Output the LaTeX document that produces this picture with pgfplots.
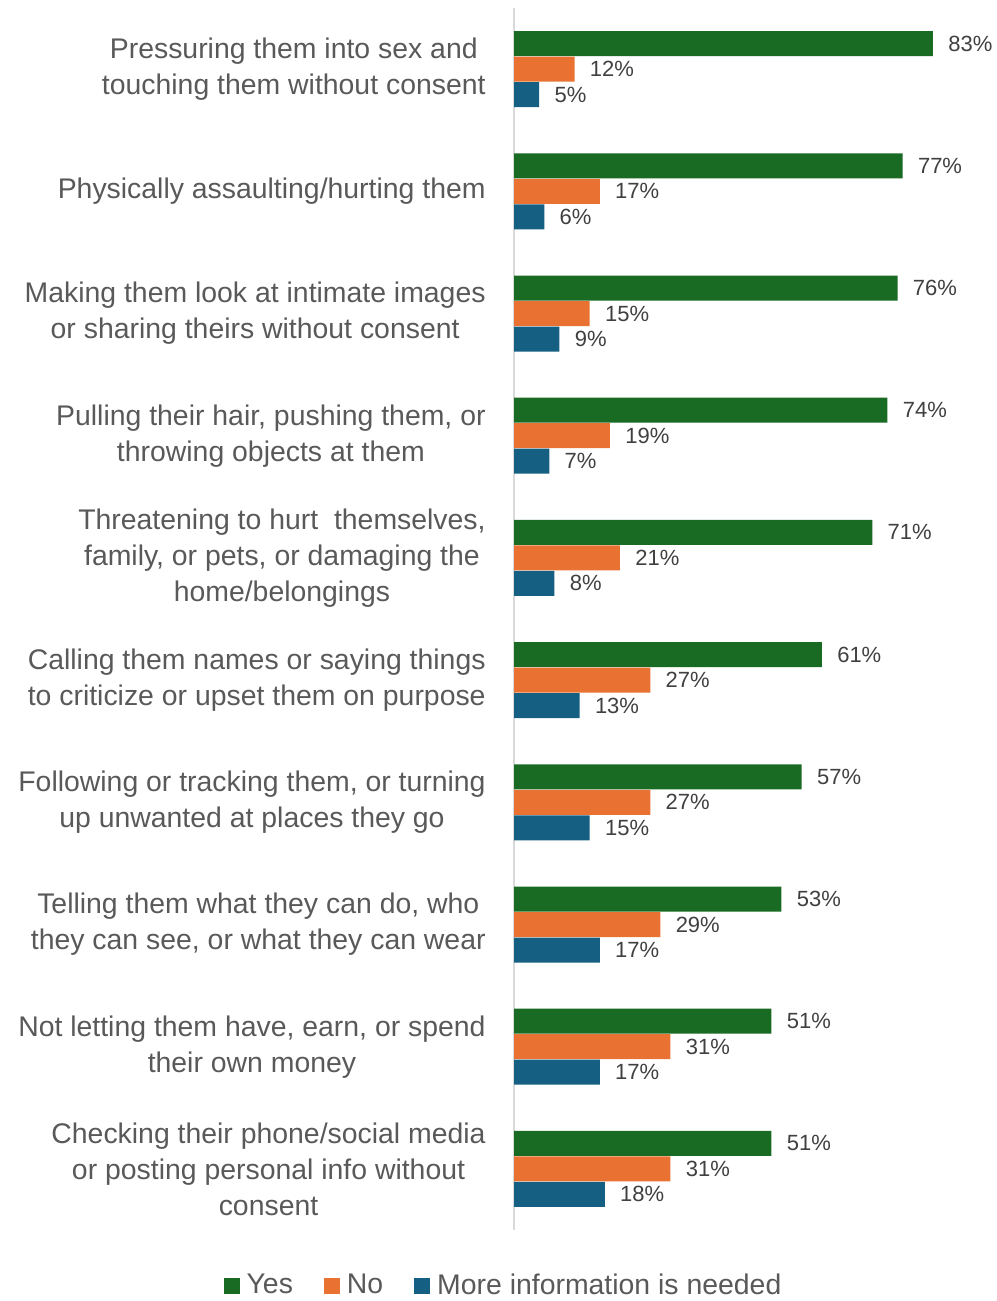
\documentclass[border=0pt]{standalone}
\usepackage{fontspec}
\setmainfont{Liberation Sans}
\usepackage{pgfplots}
\pgfplotsset{compat=1.18}
\definecolor{cyes}{HTML}{196B24}
\definecolor{cno}{HTML}{E97132}
\definecolor{cmore}{HTML}{156082}
\definecolor{labgray}{HTML}{595959}
\definecolor{valgray}{HTML}{404040}
\definecolor{axgray}{HTML}{D9D9D9}
\begin{document}
\begin{tikzpicture}
\path[use as bounding box] (0,0) rectangle (498pt,650.5pt);
\begin{axis}[
  at={(257pt,35.5pt)}, anchor=south west,
  scale only axis, width=241pt, height=611pt,
  xbar, bar width=12.5pt,
  xmin=0, xmax=95.5,
  ymin=-0.5, ymax=9.5, y dir=reverse,
  axis x line=none,
  axis y line*=left,
  y axis line style={draw=axgray, line width=1pt, -},
  ytick={0,...,9},
  yticklabels={
    {Pressuring them into sex and\\touching them without consent},
    {Physically assaulting/hurting them},
    {Making them look at intimate images\\or sharing theirs without consent},
    {Pulling their hair, pushing them, or\\throwing objects at them},
    {Threatening to hurt\ \ themselves,\\family, or pets, or damaging the\\home/belongings},
    {Calling them names or saying things\\to criticize or upset them on purpose},
    {Following or tracking them, or turning\\up unwanted at places they go},
    {Telling them what they can do, who\\they can see, or what they can wear},
    {Not letting them have, earn, or spend\\their own money},
    {Checking their phone/social media\\or posting personal info without\\consent}},
  yticklabel style={align=center, anchor=east, inner sep=0pt, xshift=-14pt,
    font=\fontsize{14.2}{18}\selectfont, text=labgray},
  major tick length=0pt,
  nodes near coords={\pgfmathprintnumber[assume math mode=true,precision=0]{\pgfplotspointmeta}\%},
  nodes near coords style={anchor=west, inner sep=0pt, xshift=7.5pt,
    font=\fontsize{11}{13}\selectfont, text=valgray},
  legend columns=3,
  legend style={at={(-0.0166,-0.0455)}, anchor=center, draw=none, fill=none,
    font=\fontsize{14.2}{16}\selectfont, text=labgray,
    nodes={inner xsep=3.5pt},
    /tikz/every even column/.append style={column sep=12pt},
    /tikz/every odd column/.append style={column sep=0pt}},
]
\addplot[fill=cyes, draw=none, bar shift=12.75pt,
  legend image code/.code={\fill[cyes] (0pt,-4pt) rectangle (8pt,4pt);}]
  coordinates {(83,0) (77,1) (76,2) (74,3) (71,4) (61,5) (57,6) (53,7) (51,8) (51,9)};
\addlegendentry{Yes}
\addplot[fill=cno, draw=none, bar shift=0pt,
  legend image code/.code={\fill[cno] (0pt,-4pt) rectangle (8pt,4pt);}]
  coordinates {(12,0) (17,1) (15,2) (19,3) (21,4) (27,5) (27,6) (29,7) (31,8) (31,9)};
\addlegendentry{No}
\addplot[fill=cmore, draw=none, bar shift=-12.75pt,
  legend image code/.code={\fill[cmore] (0pt,-4pt) rectangle (8pt,4pt);}]
  coordinates {(5,0) (6,1) (9,2) (7,3) (8,4) (13,5) (15,6) (17,7) (17,8) (18,9)};
\addlegendentry{More information is needed}
\end{axis}
\end{tikzpicture}
\end{document}
